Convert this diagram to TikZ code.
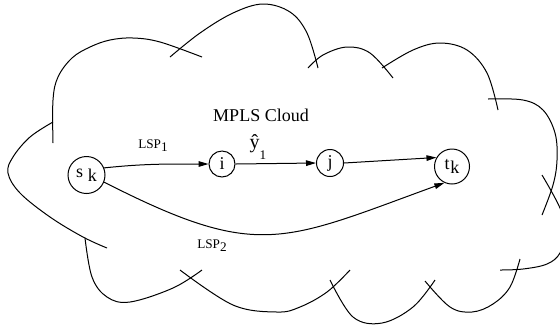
\documentclass[tikz,border=0pt]{standalone}
\usepackage{fontspec}
\setmainfont{Liberation Serif}
\usetikzlibrary{arrows.meta}

% lowered subscript in running text
\newcommand{\sub}[1]{\raisebox{-0.5ex}{#1}}

\begin{document}
\begin{tikzpicture}[x=0.5pt,y=-0.5pt,
  cloudline/.style={line width=0.5pt},
  state/.style={circle,draw,line width=0.5pt,inner sep=0pt,font=\fontsize{9}{10}\selectfont},
  link/.style={line width=0.5pt,-{Triangle[length=5pt,width=2.8pt]}},
  lbl/.style={inner sep=0pt,font=\fontsize{6.6}{7}\selectfont},
  title/.style={inner sep=0pt,font=\fontsize{9}{10}\selectfont}]
\useasboundingbox (0,0) rectangle (560,328);
\clip (0,0) rectangle (560,328);

% cloud outline: overlapping arcs
\draw[cloudline] plot[smooth,tension=0.6] coordinates
  {(53,143) (53,100) (58,77) (72,58) (90,47) (110,40) (133,38) (160,42) (202,57)};
\draw[cloudline] plot[smooth,tension=0.6] coordinates
  {(170,57) (200,33) (233,13) (263,4) (290,12) (307,33) (318,68)};
\draw[cloudline] plot[smooth,tension=0.6] coordinates
  {(308,68) (323,55) (347,47) (370,53) (393,78)};
\draw[cloudline] plot[smooth,tension=0.6] coordinates
  {(382,68) (413,50) (440,43) (467,50) (487,73) (498,110)};
\draw[cloudline] plot[smooth,tension=0.6] coordinates
  {(488,99) (523,100) (543,110) (555,133) (557,160) (553,185) (542,215)};
\draw[cloudline] plot[smooth,tension=0.6] coordinates
  {(542,175) (560,208) (566,232) (560,253) (547,264) (523,269) (500,270)};
\draw[cloudline] plot[smooth,tension=0.6] coordinates
  {(520,259) (510,287) (493,304) (472,312) (450,307) (425,281)};
\draw[cloudline] plot[smooth,tension=0.6] coordinates
  {(435,280) (413,307) (382,323) (353,317) (330,280)};
\draw[cloudline] plot[smooth,tension=0.6] coordinates
  {(350,270) (327,292) (300,307) (277,312) (233,305) (180,270)};
\draw[cloudline] plot[smooth,tension=0.6] coordinates
  {(202,270) (173,288) (130,302) (107,297) (92,277) (85,238)};
\draw[cloudline] plot[smooth,tension=0.6] coordinates
  {(107,248) (83,237) (50,217) (20,193) (8,173) (13,157) (30,137) (53,122)};

% routers
\node[state,minimum size=37pt*0.5] (s) at (86.5,175) {s\hspace{0.25em}\sub{k}};
\node[state,minimum size=26pt*0.5] (i) at (222,164) {i};
\node[state,minimum size=27pt*0.5] (j) at (330,163) {j};
\node[state,minimum size=35pt*0.5] (t) at (452,166.5) {t\hspace{0.04em}\sub{k}};

% label switched paths
\draw[link] (s.22) to[out=6,in=180] (i.west);
\draw[link] (i.east) -- (j.west);
\draw[link] (j.east) -- (t.150);
\draw[link] (s.-22) to[out=-27,in=200,looseness=1.3] (t.-115);

% labels
\node[title] (cloud) at (261,115) {MPLS Cloud};
\node[lbl] (lsp1) at (153,146) {LSP\sub{1}};
\node[lbl] (lsp2) at (212,246) {LSP\sub{2}};
\node[lbl,font=\fontsize{10}{11}\selectfont] (yhat) at (258,147) {ŷ\raisebox{-1.1ex}{\fontsize{6.6}{7}\selectfont 1}};
\end{tikzpicture}
\end{document}
